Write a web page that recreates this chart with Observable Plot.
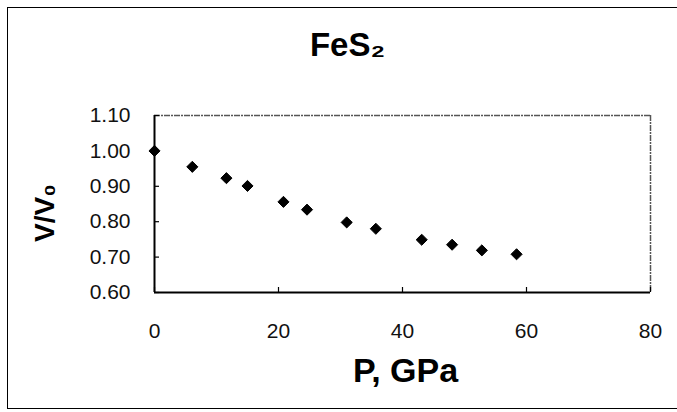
<!DOCTYPE html>
<html>
<head>
<meta charset="utf-8">
<script src="https://cdn.jsdelivr.net/npm/d3@7"></script>
<script src="https://cdn.jsdelivr.net/npm/@observablehq/plot@0.6"></script>
<style>
  html, body { margin: 0; padding: 0; background: #fff; overflow: hidden; }
  #wrap { position: relative; width: 677px; height: 412px; overflow: hidden; }
  #border { position: absolute; left: 7px; top: 7px; width: 670px; height: 402px;
            border-left: 1px solid #000; border-top: 1px solid #000; border-bottom: 1px solid #000;
            border-right: none; box-sizing: border-box; pointer-events: none; }
  svg { font-family: "Liberation Sans", Arial, sans-serif; }
</style>
</head>
<body>
<div id="wrap"><div id="border"></div></div>
<script>
// Data
const pressure = [0, 6.1, 11.6, 15.0, 20.8, 24.6, 31.0, 35.7, 43.1, 48.0, 52.8, 58.4];
const volumeRatio = [1.000, 0.955, 0.923, 0.901, 0.856, 0.834, 0.798, 0.780, 0.749, 0.735, 0.719, 0.708];
const xTicks = [0, 20, 40, 60, 80];
const yTicks = [0.6, 0.7, 0.8, 0.9, 1.0, 1.1];
const titleText = "FeS₂";
const xLabel = "P, GPa";
const yLabel = "V/V₀";

const data = pressure.map((p, i) => ({p, v: volumeRatio[i]}));
const xMid = (xTicks[0] + xTicks[xTicks.length - 1]) / 2;
const yMid = (yTicks[0] + yTicks[yTicks.length - 1]) / 2;

const chart = Plot.plot({
  width: 677,
  height: 412,
  marginLeft: 154,
  marginRight: 27,
  marginTop: 115,
  marginBottom: 120,
  style: {fontFamily: "Liberation Sans, Arial, sans-serif", fontSize: "21px", background: "transparent", overflow: "visible"},
  x: {domain: [0, 80], ticks: xTicks},
  y: {domain: [0.6, 1.1], ticks: yTicks},
  marks: [
    Plot.ruleY([1.1], {stroke: "#555", strokeWidth: 1.5, strokeDasharray: "6,1,2,1"}),
    Plot.ruleX([80], {stroke: "#555", strokeWidth: 1.5, strokeDasharray: "6,1,2,1"}),
    Plot.axisX({ticks: xTicks, tickSize: -5, tickPadding: 36, tickFormat: d => String(d),
      fontSize: 21, fill: "#111", stroke: "#000", strokeWidth: 1.2, label: null}),
    Plot.axisY({ticks: yTicks, tickSize: -5, tickPadding: 29, tickFormat: d3.format(".2f"),
      fontSize: 21, fill: "#111", stroke: "#000", strokeWidth: 1.2, label: null}),
    Plot.ruleX([0], {stroke: "#000", strokeWidth: 2}),
    Plot.ruleY([0.6], {stroke: "#000", strokeWidth: 2}),
    Plot.dot(data, {x: "p", y: "v", symbol: "diamond2", r: 5, fill: "#000", stroke: "#000", strokeWidth: 1}),
    Plot.text([titleText], {x: () => xMid, y: () => yTicks[yTicks.length - 1], dx: -55, dy: -70, text: d => d,
      textAnchor: "middle", lineAnchor: "middle", fontSize: 33, fontWeight: "bold", fill: "#000"}),
    Plot.text([xLabel], {x: () => xMid, y: () => yTicks[0], dx: 3, dy: 79, text: d => d,
      textAnchor: "middle", lineAnchor: "middle", fontSize: 34, fontWeight: "bold", fill: "#000"}),
    Plot.text([yLabel], {x: () => xTicks[0], y: () => yMid, dx: -109, dy: 9, rotate: -90, text: d => d,
      textAnchor: "middle", lineAnchor: "middle", fontSize: 28, fontWeight: "bold", fill: "#000"})
  ]
});
document.getElementById("wrap").appendChild(chart);
chart.style.position = "absolute";
chart.style.left = "0px";
chart.style.top = "0px";
</script>
</body>
</html>
